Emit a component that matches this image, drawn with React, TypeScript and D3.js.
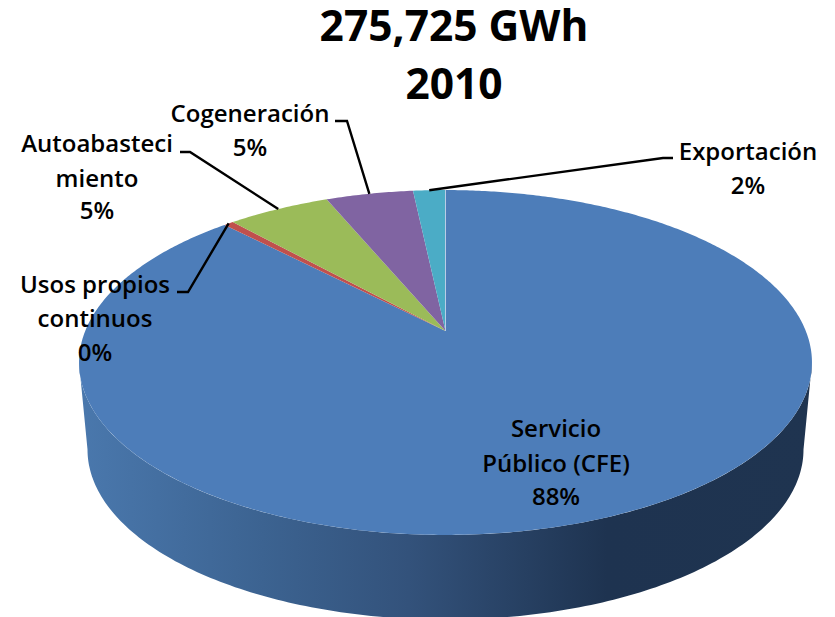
import React from "react";
import * as d3 from "d3";

const categories = ["Servicio Público (CFE)", "Usos propios continuos", "Autoabastecimiento", "Cogeneración", "Exportación"];
const shares = [87.8, 0.5, 5.4, 4.6, 1.7];
const percentLabels = ["88%", "0%", "5%", "5%", "2%"];
const sliceColors = ["#4d7db9", "#c0504d", "#9bbb59", "#8064a2", "#4bacc6"];
const titleLines = ["275,725 GWh", "2010"];

const width = 835, height = 617;
const font = "'Open Sans', 'Noto Sans', sans-serif";

// pie seen in perspective: apex sits above the centre of the rim ellipse
const apex = { x: 445.5, y: 331 };
const persp = 0.1826, scaleX = 360.3, scaleY = 166.7;
const project = (a: number): [number, number] => {
  const u = Math.sin(a), v = -Math.cos(a);
  const w = 1 - persp * v;
  return [apex.x + (scaleX * u) / w, apex.y + (scaleY * v) / w];
};

const labelLayout = [
  { lines: ["Servicio", "Público (CFE)"], x: 556, ys: [437, 472, 505] },
  { lines: ["Usos propios", "continuos"], x: 95, ys: [293, 327, 361], leader: [[188, 292], [177, 292]] },
  { lines: ["Autoabasteci", "miento"], x: 97, ys: [152, 187, 219], leader: [[190, 152], [180, 152]] },
  { lines: ["Cogeneración"], x: 250, ys: [122, 156], leader: [[347, 121], [335, 121]] },
  { lines: ["Exportación"], x: 748, ys: [160, 194], leader: [[663, 158], [673, 158]] },
];

const arcs = d3.pie<number>().sort(null).startAngle(0).endAngle(2 * Math.PI)(shares);
const line = d3.line();

const slicePath = (start: number, end: number) => {
  const n = Math.max(2, Math.ceil((end - start) / 0.01));
  const rim = d3.range(n + 1).map(i => project(start + ((end - start) * i) / n));
  return line([[apex.x, apex.y], ...rim])! + "Z";
};

// side wall: front half of the top rim, then the front half of a smaller, lower rim
const rimTop = { cx: 445.5, cy: 362.5, rx: 366.5, ry: 172.5 };
const rimLow = { cx: 445.5, cy: 449.6, rx: 358, ry: 170 };
const halfRim = (r: typeof rimTop, from: number, to: number) =>
  d3.range(181).map(i => {
    const t = from + ((to - from) * i) / 180;
    return [r.cx + r.rx * Math.cos(t), r.cy + r.ry * Math.sin(t)] as [number, number];
  });
const wallPath = line([...halfRim(rimTop, 0, Math.PI), ...halfRim(rimLow, Math.PI, 0)])! + "Z";

const wallStops = [
  [0, "#4a78ad"],
  [0.25, "#3c6391"],
  [0.45, "#33527b"],
  [0.72, "#1e3350"],
  [1, "#1f3450"],
];

export default function App() {
  return (
    <svg width={width} height={height} style={{ position: "absolute", left: 0, top: 0, background: "#fff" }}>
      <defs>
        <linearGradient id="wall" gradientUnits="userSpaceOnUse" x1={79} x2={812} y1={0} y2={0}>
          {wallStops.map(([o, c]) => <stop key={o} offset={o} stopColor={c as string} />)}
        </linearGradient>
      </defs>

      <path d={wallPath} fill="url(#wall)" />

      {arcs.map((a, i) => (
        <path key={categories[i]} d={slicePath(a.startAngle, a.endAngle)} fill={sliceColors[i]} />
      ))}
      <path d={line([[apex.x, apex.y], project(0)])!} stroke="#b9cde6" strokeWidth={1} fill="none" />

      {arcs.map((a, i) => {
        const l = labelLayout[i];
        if (!l.leader) return null;
        const anchor = project((a.startAngle + a.endAngle) / 2);
        return (
          <path key={i} d={line([anchor, ...(l.leader as [number, number][])])!} fill="none" stroke="#000" strokeWidth={2.4} />
        );
      })}

      <g fontFamily={font} fontWeight={600} fontSize={24} textAnchor="middle" fill="#000">
        {labelLayout.map((l, i) => (
          <g key={i}>
            {[...l.lines, percentLabels[i]].map((t, j) => (
              <text key={j} x={l.x} y={l.ys[j]}>{t}</text>
            ))}
          </g>
        ))}
      </g>

      <g fontFamily={font} fontWeight={700} fontSize={42.5} textAnchor="middle" fill="#000">
        <text x={454} y={41}>{titleLines[0]}</text>
        <text x={454} y={99}>{titleLines[1]}</text>
      </g>
    </svg>
  );
}
